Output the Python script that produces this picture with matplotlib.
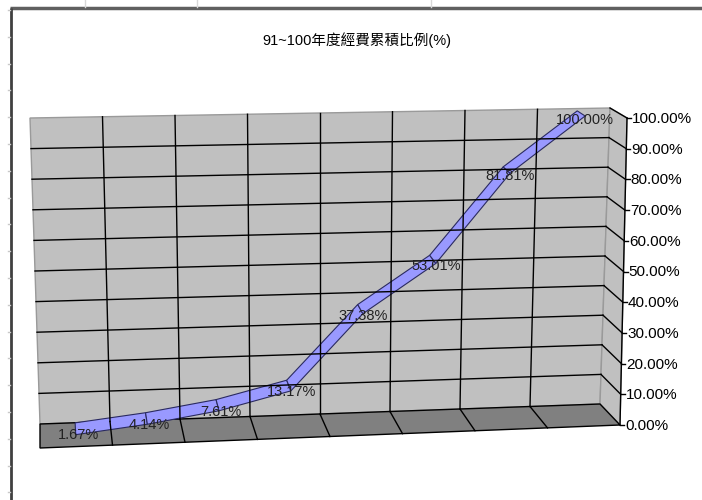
import numpy as np
import matplotlib.pyplot as plt
from matplotlib.patches import Polygon

# Fonte parecida com Arial, com CJK para o título
plt.rcParams['font.family'] = ['Liberation Sans', 'Noto Sans CJK TC', 'DejaVu Sans']

# Dados do gráfico
titulo = '91~100年度經費累積比例(%)'
pontos = np.arange(8)                      # categorias (sem rótulo no eixo)
valores = [1.67, 4.14, 7.61, 13.17, 37.38, 53.01, 81.81, 100.00]
rotulos_pontos = ['1.67%', '4.14%', '7.61%', '13.17%', '37.38%', '53.01%', '81.81%', '100.00%']
ticks_valor = [0, 10, 20, 30, 40, 50, 60, 70, 80, 90, 100]
rotulos_eixo = ['0.00%', '10.00%', '20.00%', '30.00%', '40.00%', '50.00%',
                '60.00%', '70.00%', '80.00%', '90.00%', '100.00%']
VALOR_MAX = 100.0

# Geometria da "caixa" 3D (cantos em pixels): parede do fundo e plano da frente
FUNDO = {'bl': np.array([40.0, 424.0]), 'br': np.array([600.0, 404.0]),
         'tl': np.array([30.0, 118.0]), 'tr': np.array([610.0, 108.0])}
FRENTE = {'bl': np.array([40.0, 448.0]), 'br': np.array([620.0, 425.0]),
          'tl': np.array([28.0, 132.0]), 'tr': np.array([627.0, 118.0])}

COR_PAREDE = '#c0c0c0'
COR_PISO = '#808080'
COR_LINHA = '#9999ff'


def bilinear(c, u, v):
    base = c['bl'] + u * (c['br'] - c['bl'])
    topo = c['tl'] + u * (c['tr'] - c['tl'])
    return base + v * (topo - base)


def proj(u, v, d):
    # u: posição na categoria (0-1), v: valor (0-1), d: profundidade (0 fundo, 1 frente)
    return bilinear(FUNDO, u, v) * (1 - d) + bilinear(FRENTE, u, v) * d


fig = plt.figure(figsize=(7.02, 5.00), dpi=100)
ax = fig.add_axes([0, 0, 1, 1])
ax.set_xlim(0, 702)
ax.set_ylim(500, 0)
ax.axis('off')

# Moldura e linhas da planilha
ax.plot([10, 702], [8, 8], color='#606060', lw=2.5, solid_capstyle='butt')
ax.plot([10.5, 10.5], [8, 500], color='#404040', lw=2, solid_capstyle='butt')
for x in [85, 197, 431]:
    ax.plot([x, x], [0, 7], color='#d8d8d8', lw=1)
for y in np.arange(10, 500, 26.8):
    ax.plot([8, 10], [y, y], color='#c8c8c8', lw=1)

n = len(pontos)

# Parede do fundo
cantos = [proj(0, 0, 0), proj(1, 0, 0), proj(1, 1, 0), proj(0, 1, 0)]
ax.add_patch(Polygon(cantos, closed=True, facecolor=COR_PAREDE, edgecolor='#9a9a9a', lw=1))
for t in ticks_valor[1:-1]:
    a, b = proj(0, t / VALOR_MAX, 0), proj(1, t / VALOR_MAX, 0)
    ax.plot([a[0], b[0]], [a[1], b[1]], color='black', lw=1)
for k in range(1, n):
    a, b = proj(k / n, 0, 0), proj(k / n, 1, 0)
    ax.plot([a[0], b[0]], [a[1], b[1]], color='black', lw=1)

# Parede lateral direita
cantos = [proj(1, 0, 0), proj(1, 0, 1), proj(1, 1, 1), proj(1, 1, 0)]
ax.add_patch(Polygon(cantos, closed=True, facecolor=COR_PAREDE, edgecolor='#9a9a9a', lw=1))
for t in ticks_valor[1:]:
    a, b = proj(1, t / VALOR_MAX, 0), proj(1, t / VALOR_MAX, 1)
    ax.plot([a[0], b[0]], [a[1], b[1]], color='black', lw=1)

# Piso
cantos = [proj(0, 0, 0), proj(1, 0, 0), proj(1, 0, 1), proj(0, 0, 1)]
ax.add_patch(Polygon(cantos, closed=True, facecolor=COR_PISO, edgecolor='black', lw=1))
for k in range(1, n):
    a, b = proj(k / n, 0, 0), proj(k / n, 0, 1)
    ax.plot([a[0], b[0]], [a[1], b[1]], color='black', lw=1)

# Fita da linha 3D
u = (pontos + 0.5) / n
v = np.array(valores) / VALOR_MAX
d1, d2 = 0.22, 0.72
for i in range(n - 1):
    fita = [proj(u[i], v[i], d1), proj(u[i + 1], v[i + 1], d1),
            proj(u[i + 1], v[i + 1], d2), proj(u[i], v[i], d2)]
    ax.add_patch(Polygon(fita, closed=True, facecolor=COR_LINHA, edgecolor='#2a2a60', lw=0.8))

# Rótulos dos pontos
for i in range(n):
    p = proj(u[i], v[i], 0.5)
    ax.text(p[0] + 3, p[1] + 6, rotulos_pontos[i], ha='center', va='center',
            fontsize=10.5, color='#222222')

# Eixo de valores (aresta frontal direita)
a, b = proj(1, 0, 1), proj(1, 1, 1)
ax.plot([a[0], b[0]], [a[1], b[1]], color='black', lw=1)
for t, rot in zip(ticks_valor, rotulos_eixo):
    p = proj(1, t / VALOR_MAX, 1)
    ax.plot([p[0], p[0] + 4], [p[1], p[1]], color='black', lw=1)
    ax.text(p[0] + 5, p[1] + 1, rot, ha='left', va='center', fontsize=11, color='black')

# Título
ax.text(357, 40, titulo, ha='center', va='center', fontsize=10.5, color='black')

plt.savefig('out.png', dpi=100)
